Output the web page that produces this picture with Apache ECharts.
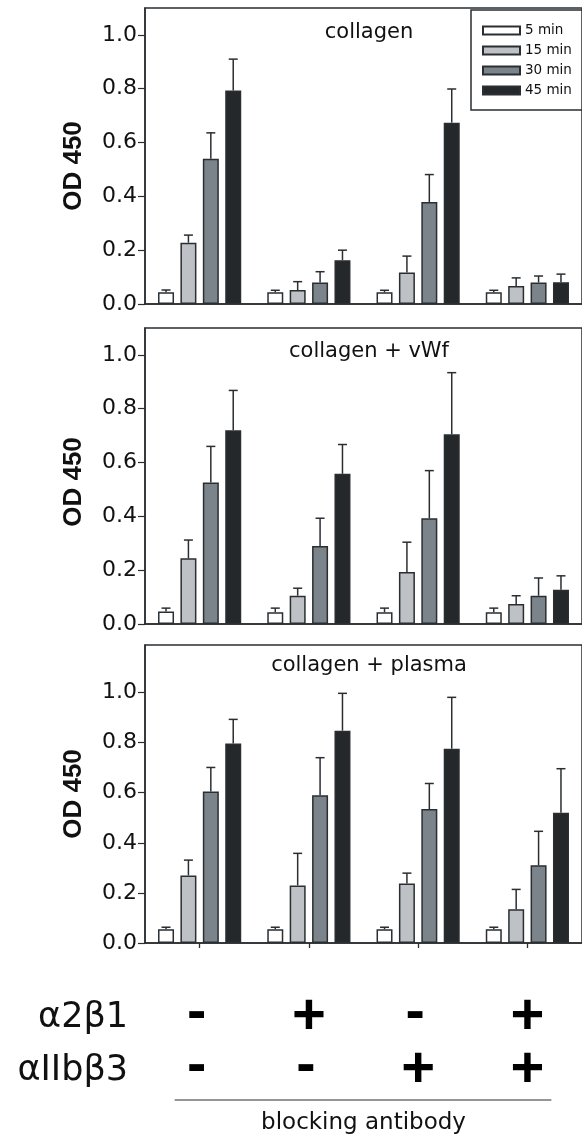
<!DOCTYPE html>
<html><head><meta charset="utf-8">
<script src="https://cdn.jsdelivr.net/npm/echarts@6/dist/echarts.min.js"></script>
<style>html,body{margin:0;padding:0;background:#fff}#c{width:582px;height:1139px}</style>
</head><body><div id="c"></div>
<script>
// ---- data ----
const groups = ['α2β1 − / αIIbβ3 −', 'α2β1 + / αIIbβ3 −', 'α2β1 − / αIIbβ3 +', 'α2β1 + / αIIbβ3 +'];
const times = ['5 min', '15 min', '30 min', '45 min'];
const yTicks = [0, 0.2, 0.4, 0.6, 0.8, 1.0];
const panelTitles = ['collagen', 'collagen + vWf', 'collagen + plasma'];
const a2b1Signs = ['-', '+', '-', '+'];
const aIIbb3Signs = ['-', '-', '+', '+'];
const rowLabels = ['α2β1', 'αIIbβ3'];
const footLabel = 'blocking antibody';
const yName = 'OD 450';

// collagen
const col5 = [0.044, 0.044, 0.044, 0.044];
const col5Err = [0.008, 0.007, 0.007, 0.007];
const col15 = [0.228, 0.052, 0.117, 0.067];
const col15Err = [0.028, 0.031, 0.061, 0.030];
const col30 = [0.540, 0.080, 0.379, 0.080];
const col30Err = [0.096, 0.040, 0.102, 0.024];
const col45 = [0.793, 0.163, 0.674, 0.081];
const col45Err = [0.117, 0.037, 0.125, 0.030];
// collagen + vWf
const vwf5 = [0.046, 0.044, 0.044, 0.044];
const vwf5Err = [0.013, 0.015, 0.015, 0.015];
const vwf15 = [0.244, 0.105, 0.193, 0.074];
const vwf15Err = [0.068, 0.028, 0.111, 0.031];
const vwf30 = [0.526, 0.290, 0.393, 0.105];
const vwf30Err = [0.134, 0.103, 0.177, 0.066];
const vwf45 = [0.720, 0.558, 0.705, 0.127];
const vwf45Err = [0.148, 0.109, 0.229, 0.052];
// collagen + plasma
const pla5 = [0.055, 0.055, 0.055, 0.055];
const pla5Err = [0.008, 0.008, 0.008, 0.008];
const pla15 = [0.270, 0.230, 0.238, 0.135];
const pla15Err = [0.061, 0.128, 0.041, 0.079];
const pla30 = [0.605, 0.590, 0.535, 0.310];
const pla30Err = [0.096, 0.150, 0.102, 0.136];
const pla45 = [0.797, 0.848, 0.776, 0.520];
const pla45Err = [0.096, 0.149, 0.205, 0.176];

const panels = [
  {means: [col5, col15, col30, col45], errs: [col5Err, col15Err, col30Err, col45Err]},
  {means: [vwf5, vwf15, vwf30, vwf45], errs: [vwf5Err, vwf15Err, vwf30Err, vwf45Err]},
  {means: [pla5, pla15, pla30, pla45], errs: [pla5Err, pla15Err, pla30Err, pla45Err]}
];

// ---- style / layout ----
const FONT = '"DejaVu Sans", "Liberation Sans", sans-serif';
const BOLD_FONT = '"Liberation Sans", Arial, sans-serif';
const INK = '#2a2e30';
const colors = ['#ffffff', '#bec2c7', '#7b848b', '#24282a'];
const BAR_W = 16, GAP_RATIO = 0.4;
const PITCH = BAR_W * (1 + GAP_RATIO);
const gridDefs = [
  {top: 8, height: 296, max: 1.1, namePad: 20},
  {top: 328, height: 296, max: 1.1, namePad: 12},
  {top: 645, height: 298, max: 1.19, namePad: 0}
];

const grid = gridDefs.map(g => ({
  left: 145, top: g.top, width: 444, height: g.height,
  show: true, borderColor: INK, borderWidth: 1.5, backgroundColor: 'transparent'
}));

const xAxis = gridDefs.map((g, i) => ({
  type: 'category', gridIndex: i, data: groups,
  axisLine: {lineStyle: {color: INK, width: 1.5}},
  axisTick: {show: i === 2, interval: 0, alignWithLabel: true, length: 5, lineStyle: {color: INK, width: 1.3}},
  axisLabel: {show: false, interval: 0}
}));

const yAxis = gridDefs.map((g, i) => ({
  type: 'value', gridIndex: i, min: 0, max: g.max, interval: 0.2,
  splitLine: {show: false},
  axisLine: {show: true, lineStyle: {color: INK, width: 1.5}},
  axisTick: {show: true, length: 7, lineStyle: {color: INK, width: 1.2}, customValues: yTicks},
  axisLabel: {
    customValues: yTicks,
    formatter: v => v.toFixed(1), fontFamily: FONT, fontSize: 22, color: '#111', margin: 8
  },
  name: yName, nameLocation: 'middle', nameGap: 58,
  nameTextStyle: {fontFamily: BOLD_FONT, fontWeight: 'bold', fontSize: 26, color: '#111',
    padding: [0, g.namePad, 0, 0]}
}));

const series = [];
panels.forEach((p, pi) => {
  p.means.forEach((arr, ti) => {
    series.push({
      type: 'bar', name: times[ti], xAxisIndex: pi, yAxisIndex: pi,
      data: arr, barWidth: BAR_W, barGap: (GAP_RATIO * 100) + '%', z: 2,
      itemStyle: {color: colors[ti], borderColor: INK, borderWidth: 1.5},
      emphasis: {disabled: true}
    });
  });
  p.means.forEach((arr, ti) => {
    const errs = p.errs[ti];
    series.push({
      type: 'custom', xAxisIndex: pi, yAxisIndex: pi, z: 3,
      data: arr.map((m, gi) => [gi, m, m + errs[gi]]),
      encode: {x: 0, y: [1, 2]},
      renderItem: (params, api) => {
        const base = api.coord([api.value(0), api.value(1)]);
        const top = api.coord([api.value(0), api.value(2)]);
        const x = base[0] + (ti - 1.5) * PITCH;
        const st = {stroke: INK, lineWidth: 1.5};
        return {type: 'group', children: [
          {type: 'line', shape: {x1: x, y1: base[1], x2: x, y2: top[1]}, style: st},
          {type: 'line', shape: {x1: x - 4.5, y1: top[1], x2: x + 4.5, y2: top[1]}, style: st}
        ]};
      }
    });
  });
});

const chart = echarts.init(document.getElementById('c'), null, {renderer: 'canvas'});
chart.setOption({
  animation: false,
  backgroundColor: '#fff',
  grid, xAxis, yAxis, series,
  legend: {
    data: times, orient: 'vertical', left: 471, top: 10,
    itemWidth: 37, itemHeight: 8, itemGap: 5, icon: 'rect',
    padding: [13, 40, 12, 11], borderColor: INK, borderWidth: 1.5,
    textStyle: {fontFamily: FONT, fontSize: 13.5, color: '#111', lineHeight: 15},
    selectedMode: false
  }
});

// annotations positioned from the chart's own axes
const titleY = [33, 352, 666];
const graphics = [];
panelTitles.forEach((t, i) => {
  const cx = grid[i].left + grid[i].width / 2 + 2;
  graphics.push({type: 'text', x: cx, y: titleY[i], style: {
    text: t, align: 'center', verticalAlign: 'middle', font: '21px ' + FONT, fill: '#111'}});
});
const rowY = [1018, 1071];
rowLabels.forEach((t, r) => {
  graphics.push({type: 'text', x: 128, y: rowY[r], style: {
    text: t, align: 'right', verticalAlign: 'middle', font: '35px ' + FONT, fill: '#111'}});
});
[a2b1Signs, aIIbb3Signs].forEach((row, r) => {
  row.forEach((s, gi) => {
    const px = chart.convertToPixel({xAxisIndex: 2}, groups[gi]);
    const plus = s === '+';
    graphics.push({type: 'text', x: px - (plus ? 0 : 3), y: rowY[r] + (plus ? 0 : -4), style: {
      text: s, align: 'center', verticalAlign: 'middle', font: 'bold 58px ' + BOLD_FONT, fill: '#000'}});
  });
});
const x0 = chart.convertToPixel({xAxisIndex: 2}, groups[0]);
const x3 = chart.convertToPixel({xAxisIndex: 2}, groups[3]);
graphics.push({type: 'line', shape: {x1: x0 - 25, y1: 1100, x2: x3 + 24, y2: 1100},
  style: {stroke: INK, lineWidth: 1.2}});
graphics.push({type: 'text', x: (x0 + x3) / 2, y: 1123, style: {
  text: footLabel, align: 'center', verticalAlign: 'middle', font: '23px ' + FONT, fill: '#111'}});
chart.setOption({graphic: graphics});
</script>
</body></html>
